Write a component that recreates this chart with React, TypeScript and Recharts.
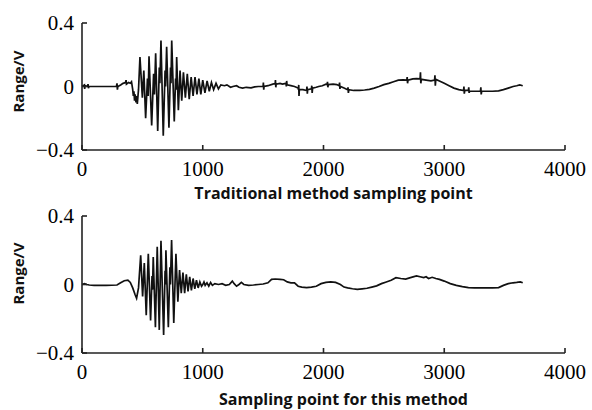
import { LineChart, Line, XAxis, YAxis } from "recharts";

type Pt = [number, number];

const X_TICKS = [0, 1000, 2000, 3000, 4000];
const Y_TICKS = [-0.4, 0, 0.4];
const TOP_TITLE = "Traditional method sampling point";
const BOTTOM_TITLE = "Sampling point for this method";
const Y_TITLE = "Range/V";

// traditional method: quiet start, small dip before the burst
const tradStart: Pt[] = [
  [0, 0], [20, 0.01], [22, -0.015], [26, 0.005], [45, 0], [50, 0.015], [53, -0.01], [58, 0],
  [150, 0], [250, 0], [285, 0], [290, 0.02], [293, -0.02], [297, 0], [320, 0.01], [340, 0.02],
  [360, 0.025], [365, 0.04], [368, 0.015], [385, 0.025], [400, 0.02], [410, 0.03], [420, -0.02],
  [425, -0.06], [430, -0.03], [435, -0.09], [440, -0.05], [447, -0.1], [452, -0.06],
];

const tradBurst: Pt[] = [
  [458, -0.11], [468, -0.02], [480, 0.185], [500, -0.07], [512, 0.1], [527, -0.2],
  [542, 0.05], [548, -0.06], [555, 0.19], [577, -0.245], [593, 0.08], [600, -0.05],
  [610, 0.21], [627, -0.28], [640, 0.12], [645, 0.02], [654, 0.29], [673, -0.31],
  [688, 0.1], [692, 0.0], [701, 0.25], [720, -0.26], [733, 0.12], [737, 0.02],
  [743, 0.29], [764, -0.22], [775, 0.05], [779, -0.02], [784, 0.185], [798, -0.15],
  [812, 0.1], [826, -0.09], [840, 0.09], [856, -0.07], [872, 0.08], [888, -0.08],
  [904, 0.06], [920, -0.06], [936, 0.06], [952, -0.05], [968, 0.05], [984, -0.05],
  [1000, 0.04], [1018, -0.04], [1036, 0.035], [1054, -0.03], [1072, 0.025], [1090, -0.02],
  [1110, 0.02], [1130, -0.015], [1150, 0.01],
];

// slow drift with short spikes
const tradTail: Pt[] = [
  [1180, 0.005], [1200, 0.01], [1230, -0.005], [1250, 0], [1280, 0.005],
  [1300, -0.005], [1330, -0.01], [1360, -0.005], [1400, -0.008], [1430, -0.002], [1460, 0],
  [1500, 0], [1502, 0.025], [1505, -0.02], [1508, 0], [1540, 0.005], [1580, 0.015],
  [1600, 0.018], [1602, 0.04], [1605, -0.005], [1608, 0.015], [1640, 0.02], [1660, 0.015],
  [1690, 0.02], [1692, 0], [1695, 0.035], [1698, 0.01], [1730, 0.005], [1760, 0],
  [1790, -0.01], [1792, -0.02], [1795, 0.01], [1797, -0.06], [1800, -0.02], [1830, -0.02],
  [1860, -0.025], [1863, 0], [1866, -0.045], [1869, -0.02], [1900, -0.015], [1903, 0.005],
  [1906, -0.04], [1910, -0.01], [1940, -0.005], [1960, 0], [1990, 0.005], [2020, 0.015],
  [2030, 0.012], [2033, 0.03], [2036, -0.005], [2040, 0.012], [2080, 0.015], [2110, 0.012],
  [2130, 0.005], [2133, 0.025], [2136, -0.015], [2140, 0], [2170, -0.01], [2200, -0.02],
  [2203, -0.005], [2206, -0.04], [2210, -0.02], [2250, -0.025], [2300, -0.025], [2340, -0.022],
  [2380, -0.018], [2420, -0.01], [2460, 0], [2500, 0.012], [2540, 0.02], [2580, 0.03],
  [2620, 0.04], [2660, 0.042], [2690, 0.04], [2693, 0.06], [2696, 0.02], [2700, 0.04],
  [2740, 0.048], [2770, 0.05], [2800, 0.048], [2803, 0.09], [2806, 0.02], [2810, 0.045],
  [2850, 0.04], [2890, 0.035], [2920, 0.04], [2923, 0.07], [2926, 0.005], [2930, 0.045],
  [2960, 0.035], [3000, 0.02], [3040, 0.005], [3080, -0.01], [3120, -0.02], [3160, -0.025],
  [3163, 0], [3166, -0.045], [3170, -0.025], [3200, -0.025], [3203, -0.005], [3206, -0.04],
  [3210, -0.03], [3250, -0.03], [3300, -0.03], [3303, -0.005], [3306, -0.05], [3310, -0.03],
  [3350, -0.03], [3400, -0.03], [3450, -0.028], [3490, -0.02], [3530, -0.01], [3570, 0],
  [3600, 0.005], [3625, 0.01], [3650, 0.005],
];

// this method: same burst, smoother baseline
const oursStart: Pt[] = [
  [0, 0], [20, 0.005], [40, 0], [60, -0.003], [100, -0.005], [200, -0.005], [290, -0.003],
  [320, 0.01], [350, 0.022], [380, 0.025], [400, 0.012], [420, -0.02], [440, -0.06],
];

const oursBurst: Pt[] = [
  [452, -0.08], [468, -0.02], [486, 0.17], [502, -0.07], [516, 0.125], [532, -0.18],
  [549, 0.18], [568, -0.21], [580, 0.05], [584, -0.03], [590, 0.16], [608, -0.25],
  [623, 0.22], [640, -0.265], [654, 0.255], [676, -0.295], [688, 0.08], [691, 0.0],
  [695, 0.2], [715, -0.25], [728, 0.1], [732, 0.0], [742, 0.26], [760, -0.225],
  [778, 0.18], [794, -0.1], [808, 0.085], [822, -0.05], [836, 0.07], [850, -0.05],
  [864, 0.06], [878, -0.04], [892, 0.045], [906, -0.035], [920, 0.035], [934, -0.025],
  [948, 0.025], [962, -0.02], [976, 0.015], [990, -0.01],
];

const oursTail: Pt[] = [
  [1000, 0], [1010, 0.015], [1020, -0.005], [1035, 0.01], [1050, -0.01], [1065, 0.012],
  [1080, -0.005], [1100, 0.005], [1130, 0], [1160, 0.005], [1190, -0.005], [1220, 0],
  [1245, 0.02], [1260, 0.005], [1280, -0.01], [1300, 0], [1320, 0.012], [1340, 0],
  [1380, -0.005], [1420, -0.003], [1460, 0], [1500, 0.003], [1540, 0.01], [1570, 0.03],
  [1600, 0.032], [1640, 0.03], [1670, 0.028], [1700, 0.015], [1730, 0.01], [1760, 0.01],
  [1790, -0.01], [1820, -0.015], [1860, -0.018], [1900, -0.015], [1940, -0.01], [1980, 0.005],
  [2020, 0.012], [2060, 0.015], [2100, 0.012], [2140, 0], [2170, -0.015], [2200, -0.02],
  [2240, -0.025], [2280, -0.028], [2320, -0.025], [2360, -0.022], [2400, -0.015], [2440, -0.008],
  [2480, 0.005], [2520, 0.015], [2560, 0.025], [2600, 0.04], [2640, 0.035], [2680, 0.032],
  [2720, 0.04], [2770, 0.05], [2800, 0.045], [2830, 0.04], [2850, 0.045], [2870, 0.035],
  [2900, 0.042], [2930, 0.035], [2960, 0.03], [3000, 0.02], [3050, 0.005], [3100, -0.005],
  [3150, -0.012], [3200, -0.018], [3250, -0.02], [3300, -0.02], [3350, -0.02], [3400, -0.02],
  [3450, -0.018], [3490, -0.005], [3530, 0.005], [3570, 0.01], [3600, 0.012], [3630, 0.015],
  [3650, 0.01],
];

const toRows = (...parts: Pt[][]) => parts.flat().map(([x, y]) => ({ x, y }));

const traditional = toRows(tradStart, tradBurst, tradTail);
const ours = toRows(oursStart, oursBurst, oursTail);

const titleFont = "Open Sans";

const fmtY = (v: number) => (v === 0 ? "0" : v < 0 ? "\u22120.4" : "0.4");

function XTick(props: any) {
  const { x, y, payload } = props;
  return (
    <g>
      <text x={x} y={y + 15} textAnchor="middle" fontFamily="Liberation Serif" fontSize={21} fill="#000">
        {String(payload.value)}
      </text>
    </g>
  );
}

function YTick(props: any) {
  const { x, y, payload } = props;
  return (
    <g>
      <text x={x} y={y + 7} textAnchor="end" fontFamily="Liberation Serif" fontSize={21} fill="#000">
        {fmtY(payload.value)}
      </text>
    </g>
  );
}

function Panel({ data, height, top, bottom, title, titleDx, titleDy, yTitleDy }: any) {
  return (
    <LineChart width={592} height={height} data={data} margin={{ top, right: 27, left: 10, bottom }}>
      <XAxis
        dataKey="x"
        type="number"
        domain={[0, 4000]}
        ticks={X_TICKS}
        interval={0}
        height={30}
        tickSize={-5}
        tickMargin={16}
        tick={(p: any) => <XTick {...p} />}
        axisLine={{ stroke: "#222", strokeWidth: 1.6 }}
        tickLine={{ stroke: "#222", strokeWidth: 1.6 }}
        label={(p: any) => (
          <text
            x={p.viewBox.x + p.viewBox.width / 2 + titleDx}
            y={p.viewBox.y + titleDy}
            textAnchor="middle"
            fontFamily={titleFont}
            fontWeight={700}
            fontSize={16}
            fill="#111"
          >
            {title}
          </text>
        )}
      />
      <YAxis
        type="number"
        domain={[-0.4, 0.4]}
        ticks={Y_TICKS}
        interval={0}
        width={72}
        allowDataOverflow
        tickSize={-5}
        tickMargin={13}
        tick={(p: any) => <YTick {...p} />}
        axisLine={{ stroke: "#222", strokeWidth: 1.6 }}
        tickLine={{ stroke: "#222", strokeWidth: 1.6 }}
        label={(p: any) => {
          const cx = p.viewBox.x + 8;
          const cy = p.viewBox.y + p.viewBox.height / 2 + yTitleDy;
          return (
            <text
              x={cx}
              y={cy}
              transform={`rotate(-90, ${cx}, ${cy})`}
              textAnchor="middle"
              dominantBaseline="central"
              fontFamily={titleFont}
              fontWeight={700}
              fontSize={15}
              fill="#111"
            >
              {Y_TITLE}
            </text>
          );
        }}
      />
      <Line
        dataKey="y"
        type="linear"
        stroke="#111"
        strokeWidth={1.7}
        dot={false}
        isAnimationActive={false}
      />
    </LineChart>
  );
}

export default function App() {
  return (
    <div style={{ position: "absolute", left: 0, top: 0, width: 592, height: 410, background: "#fff" }}>
      <div style={{ position: "absolute", left: 0, top: 0 }}>
        <Panel data={traditional} height={206} top={23} bottom={26} title={TOP_TITLE} titleDx={10} titleDy={49} yTitleDy={-5} />
      </div>
      <div style={{ position: "absolute", left: 0, top: 200 }}>
        <Panel data={ours} height={210} top={16} bottom={27} title={BOTTOM_TITLE} titleDx={20} titleDy={52} yTitleDy={-11} />
      </div>
    </div>
  );
}
